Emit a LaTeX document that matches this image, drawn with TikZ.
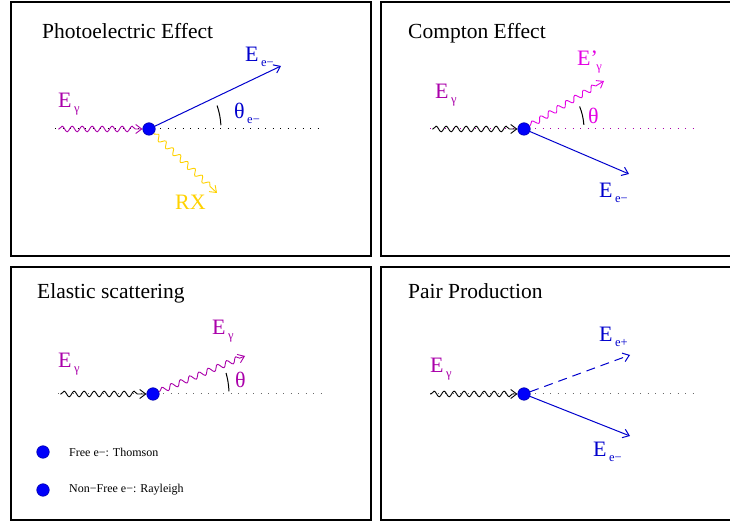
\documentclass[tikz,border=0pt]{standalone}
\usepackage{fontspec}
\setmainfont{Liberation Serif}
\usetikzlibrary{arrows.meta,decorations.pathmorphing}
\definecolor{cpurple}{RGB}{170,0,170}
\definecolor{cmagenta}{RGB}{228,0,228}
\definecolor{cblue}{RGB}{0,0,205}
\definecolor{dotblue}{RGB}{0,0,250}
\definecolor{cyellow}{RGB}{255,210,0}
\definecolor{cgrey}{RGB}{105,105,105}
\newcommand{\subx}[1]{\kern2.5pt\raisebox{-5pt}{\fontsize{12.5}{13}\selectfont #1}}
\tikzset{
  panel/.style={draw=black,line width=1.2pt},
  title/.style={anchor=base west,inner sep=0pt,font=\fontsize{21.5}{24}\selectfont},
  lab/.style={anchor=base west,inner sep=0pt,font=\fontsize{22}{24}\selectfont},
  edot/.style={circle,fill=dotblue,draw=dotblue!70!black,line width=0.6pt,minimum size=12.5pt,inner sep=0pt},
  axisline/.style={line width=1pt,dash pattern=on 1.2pt off 6.3pt},
  wave/.style={decorate,decoration={snake,amplitude=2.8pt,segment length=10pt,post length=5pt,pre length=1pt},line width=0.9pt},
  tip/.style={-{Straight Barb[length=6pt,width=9pt]}},
  particle/.style={line width=1pt,cblue,tip},
  anglearc/.style={line width=1pt,black},
  legend/.style={anchor=west,inner sep=0pt,font=\fontsize{12}{14}\selectfont},
}
\begin{document}
\begin{tikzpicture}[x=1pt,y=1pt]
\useasboundingbox (0,0) rectangle (730,521);
\fill[white] (0,0) rectangle (730,521);
% panels
\draw[panel] (11,265) rectangle (371,519);
\draw[panel] (381,265) rectangle (745,519);
\draw[panel] (11,1) rectangle (371,254);
\draw[panel] (381,1) rectangle (745,254);
% titles
\node[title] (t1) at (42,482) {Photoelectric Effect};
\node[title] (t2) at (408,482) {Compton Effect};
\node[title] (t3) at (37,222) {Elastic scattering};
\node[title] (t4) at (408,222) {Pair Production};

% ---------- Panel 1: photoelectric ----------
\coordinate (a1s) at (55,392);
\coordinate (a1e) at (320,392);
\draw[axisline,black] (a1s) -- (a1e);
\node[edot] (d1) at (149,392) {};
\coordinate (w1s) at (58,392);
\draw[wave,tip,cpurple] (w1s) -- (d1.west);
\coordinate (p1) at (281,455);
\draw[particle] (d1) -- (p1);
\coordinate (x1) at (217,328);
\draw[wave,tip,cyellow] (d1) -- (x1);
\draw[anglearc] ([shift={(3:72)}]d1.center) arc (3:19:72);
\node[lab,cpurple] (l1g) at (58,413) {E\subx{γ}};
\node[lab,cblue] (l1e) at (245,459) {E\subx{e−}};
\node[lab,cblue] (l1t) at (234,402) {θ\subx{e−}};
\node[lab,cyellow] (l1x) at (175,311) {RX};

% ---------- Panel 2: Compton ----------
\coordinate (a2s) at (430,392);
\coordinate (a2e) at (695,392);
\draw[axisline,cpurple] (a2s) -- (a2e);
\node[edot] (d2) at (524,392) {};
\coordinate (w2s) at (432,392);
\draw[wave,tip,black] (w2s) -- (d2.west);
\coordinate (g2) at (604,440);
\draw[wave,tip,cmagenta] (d2) -- (g2);
\coordinate (p2) at (629,347);
\draw[particle] (d2) -- (p2);
\draw[anglearc] ([shift={(4:60)}]d2.center) arc (4:22:60);
\node[lab,cpurple] (l2g) at (435,422) {E\subx{γ}};
\node[lab,cmagenta] (l2gp) at (577,455) {E’\kern-4pt\subx{γ}};
\node[lab,cmagenta] (l2t) at (588,397) {θ};
\node[lab,cblue] (l2e) at (599,323) {E\subx{e−}};

% ---------- Panel 3: elastic ----------
\coordinate (a3s) at (58,127);
\coordinate (a3e) at (325,127);
\draw[axisline,cgrey] (a3s) -- (a3e);
\node[edot] (d3) at (153,127) {};
\coordinate (w3s) at (60,127);
\draw[wave,tip,black] (w3s) -- (d3.west);
\coordinate (g3) at (245,165);
\draw[wave,tip,cpurple] (d3) -- (g3);
\draw[anglearc] ([shift={(2:76)}]d3.center) arc (2:16:76);
\node[lab,cpurple] (l3g) at (58,153) {E\subx{γ}};
\node[lab,cpurple] (l3go) at (212,186) {E\subx{γ}};
\node[lab,cpurple] (l3t) at (235,133) {θ};
\node[edot] (k1) at (43,69) {};
\node[legend] (k1t) at (69,69) {Free e−: Thomson};
\node[edot] (k2) at (43,31) {};
\node[legend] (k2t) at (69,31) {Non−Free e−: Rayleigh};

% ---------- Panel 4: pair production ----------
\coordinate (a4s) at (430,127);
\coordinate (a4e) at (695,127);
\draw[axisline,cgrey] (a4s) -- (a4e);
\node[edot] (d4) at (524,127) {};
\coordinate (w4s) at (430,127);
\draw[wave,tip,black] (w4s) -- (d4.west);
\coordinate (pp) at (630,166);
\draw[particle,dash pattern=on 9pt off 6pt] (d4) -- (pp);
\coordinate (pm) at (630,85);
\draw[particle] (d4) -- (pm);
\node[lab,cpurple] (l4g) at (430,148) {E\subx{γ}};
\node[lab,cblue] (l4p) at (599,179) {E\subx{e+}};
\node[lab,cblue] (l4m) at (593,64) {E\subx{e−}};
\end{tikzpicture}
\end{document}
